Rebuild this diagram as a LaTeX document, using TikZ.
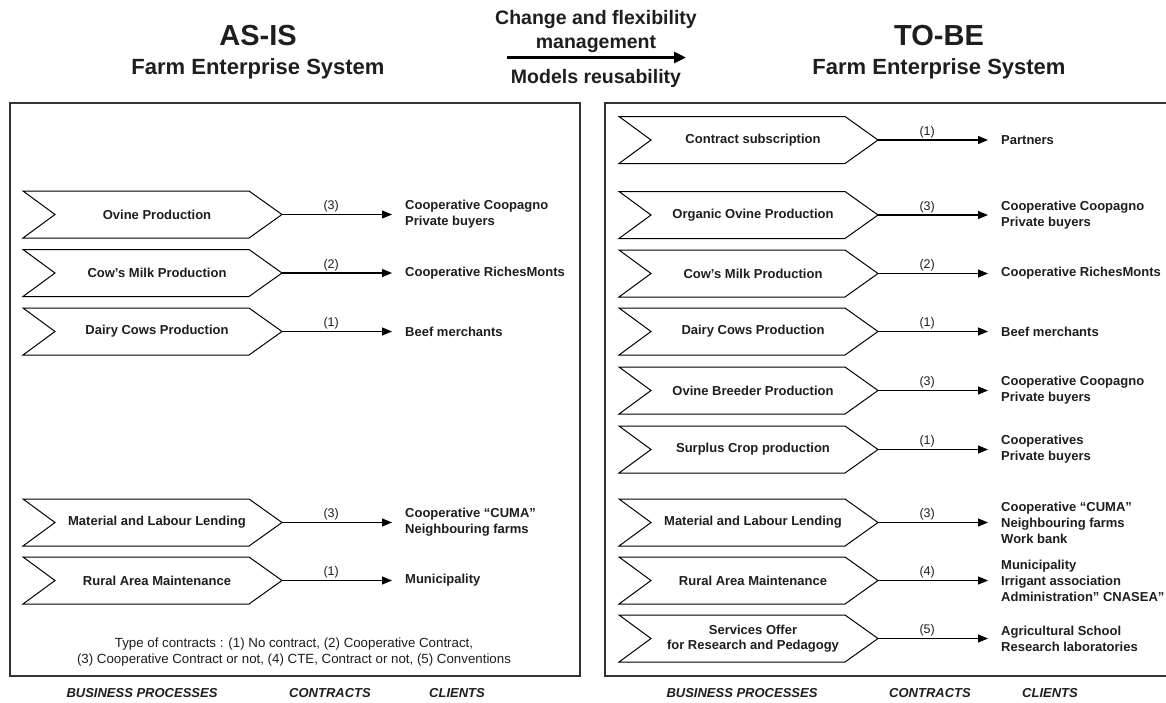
\documentclass[tikz,border=0pt]{standalone}
\usepackage{fontspec}
\setmainfont{Liberation Sans}
\usetikzlibrary{arrows.meta}
\definecolor{ink}{HTML}{1E1E1E}
\definecolor{frame}{HTML}{333333}
\tikzset{
  procnode/.style={inner sep=0pt,
    font=\fontsize{13}{15}\selectfont\bfseries, text=ink, align=center},
  chevline/.style={draw=black, line width=1pt, line join=miter},
  clientnode/.style={anchor=west, inner sep=0pt,
    font=\fontsize{13}{16}\selectfont\bfseries, text=ink, align=left},
  conn/.style={line width=1.2pt, shorten >=13pt, -{Triangle[length=10pt,width=8pt]}},
  clab/.style={font=\fontsize{12.5}{14}\selectfont, text=ink, above=1.5pt, pos=0.4, inner sep=0pt},
  bigtitle/.style={font=\fontsize{29}{32}\selectfont\bfseries, text=ink, anchor=base},
  subtitle/.style={font=\fontsize{22}{25}\selectfont\bfseries, text=ink, anchor=base},
  midtext/.style={font=\fontsize{19.5}{22}\selectfont\bfseries, text=ink, anchor=base},
  footlab/.style={font=\fontsize{13}{15}\selectfont\bfseries\itshape, text=ink, anchor=base},
  legend/.style={font=\fontsize{13.3}{16}\selectfont, text=ink, align=center},
  framebox/.style={draw=frame, line width=1.2pt}
}
% #1 name, #2 left x, #3 centre y, #4 text
\newcommand\chevron[4]{%
  \coordinate (#1w) at (#2,#3);
  \coordinate (#1) at ([xshift=259pt]#1w);
  \node[procnode] (#1t) at ([xshift=134pt]#1w) {#4};
  \draw[chevline] ([shift={(0,-23.5)}]#1w) -- ([shift={(226,-23.5)}]#1w) -- (#1)
    -- ([shift={(226,23.5)}]#1w) -- ([shift={(0,23.5)}]#1w) -- ([xshift=32pt]#1w) -- cycle;
}
\newcommand\client[4]{%
  \node[clientnode] (#2) at ([xshift=123pt]#1) {#4};
  \draw[conn] (#1) -- node[clab]{#3} (#2.west);
}
\begin{document}
\begin{tikzpicture}[x=1pt,y=-1pt]
\path[use as bounding box, fill=white] (0,0) rectangle (1166,702);

% titles
\node[bigtitle] (asis) at (258,45) {AS-IS};
\node[subtitle] (asissys) at (258,74) {Farm Enterprise System};
\node[bigtitle] (tobe) at (939,45) {TO-BE};
\node[subtitle] (tobesys) at (939,74) {Farm Enterprise System};

\node[midtext] (m1) at (596,24) {Change and flexibility};
\node[midtext] (m2) at (596,48.5) {management};
\node[midtext] (m3) at (596,83) {Models reusability};
\coordinate (ma) at (507,57.5);
\coordinate (mb) at (686,57.5);
\draw[line width=3pt, -{Triangle[length=12pt,width=11pt]}] (ma) -- (mb);

% frames
\draw[framebox] (10,103) rectangle (580,676);
\draw[framebox] (605,103) rectangle (1200,676);

% AS-IS
\chevron{a1}{23}{214.5}{Ovine Production}
\client{a1}{ac1}{(3)}{Cooperative Coopagno\\Private buyers}
\chevron{a2}{23}{273}{Cow’s Milk Production}
\client{a2}{ac2}{(2)}{Cooperative RichesMonts}
\chevron{a3}{23}{331.5}{Dairy Cows Production}
\client{a3}{ac3}{(1)}{Beef merchants}
\chevron{a4}{23}{522.5}{Material and Labour Lending}
\client{a4}{ac4}{(3)}{Cooperative “CUMA”\\Neighbouring farms}
\chevron{a5}{23}{580.5}{Rural Area Maintenance}
\client{a5}{ac5}{(1)}{Municipality}

\node[legend] (leg) at (294,652) {Type of contracts : (1) No contract, (2) Cooperative Contract,\\(3) Cooperative Contract or not, (4) CTE, Contract or not, (5) Conventions};

% TO-BE
\chevron{b1}{619}{140}{Contract subscription}
\client{b1}{bc1}{(1)}{Partners}
\chevron{b2}{619}{215}{Organic Ovine Production}
\client{b2}{bc2}{(3)}{Cooperative Coopagno\\Private buyers}
\chevron{b3}{619}{273.5}{Cow’s Milk Production}
\client{b3}{bc3}{(2)}{Cooperative RichesMonts}
\chevron{b4}{619}{331.5}{Dairy Cows Production}
\client{b4}{bc4}{(1)}{Beef merchants}
\chevron{b5}{619}{390.5}{Ovine Breeder Production}
\client{b5}{bc5}{(3)}{Cooperative Coopagno\\Private buyers}
\chevron{b6}{619}{449.5}{Surplus Crop production}
\client{b6}{bc6}{(1)}{Cooperatives\\Private buyers}
\chevron{b7}{619}{522.5}{Material and Labour Lending}
\client{b7}{bc7}{(3)}{Cooperative “CUMA”\\Neighbouring farms\\Work bank}
\chevron{b8}{619}{580.5}{Rural Area Maintenance}
\client{b8}{bc8}{(4)}{Municipality\\Irrigant association\\Administration” CNASEA”}
\chevron{b9}{619}{638.5}{Services Offer\\for Research and Pedagogy}
\client{b9}{bc9}{(5)}{Agricultural School\\Research laboratories}

% footer labels
\node[footlab] (f1) at (142,697) {BUSINESS PROCESSES};
\node[footlab] (f2) at (330,697) {CONTRACTS};
\node[footlab] (f3) at (457,697) {CLIENTS};
\node[footlab] (f4) at (742,697) {BUSINESS PROCESSES};
\node[footlab] (f5) at (930,697) {CONTRACTS};
\node[footlab] (f6) at (1050,697) {CLIENTS};
\end{tikzpicture}
\end{document}
